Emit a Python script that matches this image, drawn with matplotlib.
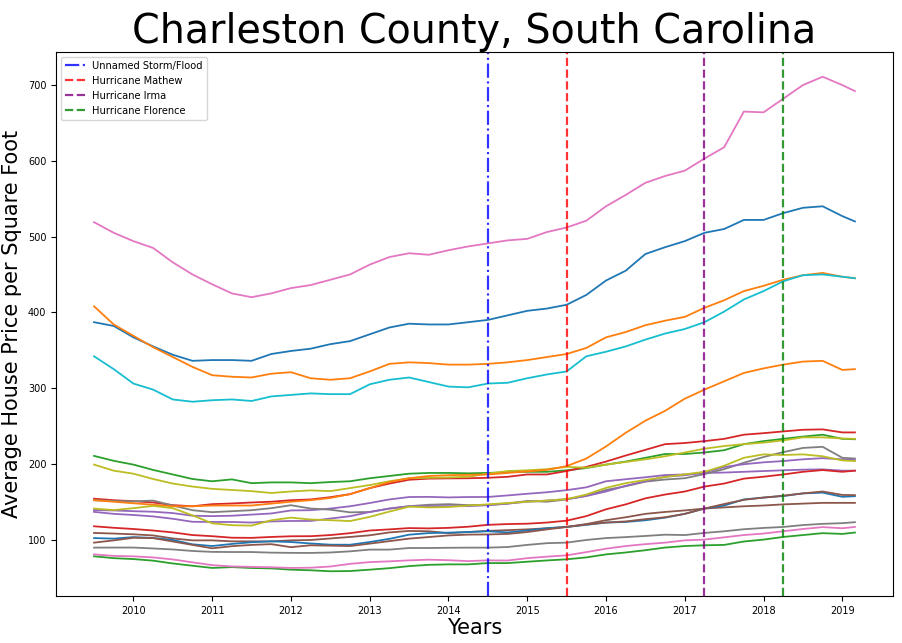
import matplotlib
matplotlib.use("Agg")
import matplotlib.pyplot as plt
import numpy as np

# Quarterly sample dates (decimal years), mid-2009 .. early 2019
years = [2009.5 + 0.25 * k for k in range(39)] + [2019.16]

s01_blue = [387, 382, 367, 355, 344, 336, 337, 337, 336, 345, 349, 352, 358, 362, 371, 380, 385, 384, 384, 387,
            390, 396, 402, 405, 410, 423, 442, 455, 477, 486, 494, 505, 510, 522, 522, 531, 538, 540, 527, 520]
s02_orange = [408, 384, 369, 354, 341, 328, 317, 315, 314, 319, 321, 313, 311, 313, 322, 332, 334, 333, 331, 331,
              332, 334, 337, 341, 345, 353, 367, 374, 383, 389, 394, 406, 416, 428, 435, 443, 449, 452, 447, 445]
s03_green = [210.5, 204, 199, 192, 186, 180, 177, 179.5, 174.5, 175.5, 175.5, 174.5, 176, 177, 181, 184, 187, 188, 188, 187.5,
             188, 189, 189.5, 189.5, 191.5, 194.5, 199, 203, 208, 213, 213, 215, 218, 226, 230, 233, 236, 238.5, 233, 232.5]
s04_red = [154, 152, 150.7, 149, 145.5, 144, 146.8, 147.7, 149, 150, 152, 153, 156, 160, 168, 174, 179, 180.5, 180.8, 181,
           181.6, 182.9, 186, 186, 190.5, 196, 203, 211, 218.5, 226, 227.5, 230, 233, 238.5, 240.5, 242.8, 245, 245.5, 241.5, 241.5]
s05_purple = [139, 138.5, 137.5, 136.8, 135, 131.5, 131, 131.5, 133, 134.5, 138.5, 138.8, 141, 144, 148.3, 153, 156.2, 156.4, 155.7, 156.2,
              156.3, 158.3, 160.5, 162.5, 165.3, 169, 177, 179.7, 182.3, 185.2, 186, 188, 188.5, 189.5, 190.5, 191.5, 192.3, 192.7, 191, 191]
s06_brown = [108.8, 108, 107, 105.5, 101.5, 99, 99, 97.7, 97.7, 97.7, 99, 99.5, 101.5, 103.5, 105.7, 109.5, 111.4, 111, 108.5, 110,
             111.5, 112.5, 113.5, 115, 116.7, 120.5, 125.6, 129.5, 134, 136.5, 138.5, 141, 142.5, 144, 145, 146.5, 147.5, 148.5, 148.5, 148.5]
s07_pink = [519, 505, 494, 485, 466, 450, 437, 425, 420, 425, 432, 436, 443, 450, 463, 473, 478, 476, 482, 487,
            491, 495, 497, 506, 512, 521, 540, 555, 571, 580, 587, 603, 618, 665, 664, 682, 700, 711, 700, 692]
s08_gray = [152, 151, 150.5, 151.5, 145, 138.8, 136.2, 137.5, 138.8, 141.5, 145.4, 141, 139.5, 136, 136.5, 141, 144.1, 146, 146.8, 145.5,
            145.8, 147.5, 151, 150, 153, 158, 165.5, 170.5, 176.5, 179.3, 181, 186.5, 193, 201.5, 209, 215.5, 221, 222.5, 208, 207]
s09_olive = [199, 191, 187, 180, 174, 170, 167, 165.5, 164, 161.5, 163.5, 165, 164, 168, 172, 177, 181, 181.6, 182, 183,
             187, 190.5, 191.5, 193, 196, 195, 199, 202.5, 206, 210, 215, 220, 223.5, 226, 228, 231, 235, 235, 233.5, 233]
s10_cyan = [342, 325, 306, 298, 285, 282, 284, 285, 283, 289, 291, 293, 292, 292, 305, 311, 314, 308, 302, 301,
            306, 307, 313, 318, 322, 342, 348, 355, 364, 372, 378, 387, 401, 417, 428, 441, 449, 450, 447, 445]
s11_blue = [102, 101.3, 103.3, 102.2, 99.5, 93.8, 91.5, 94.3, 96.5, 97.7, 96.8, 94.9, 93.3, 93.2, 96.8, 101, 106.5, 108.6, 109.2, 110,
            111, 109.5, 112, 115, 116.7, 119.5, 122.5, 123.3, 125.5, 129, 134, 141, 145, 153, 155.5, 157.5, 161, 162, 156.5, 157.3]
s12_orange = [152, 150, 148, 146, 144, 144, 145, 145, 145, 147.5, 150, 152, 155, 160, 168, 176, 181, 184, 185, 185.5,
              186, 188, 190, 192, 197, 207, 223, 241, 257, 270, 286, 298, 309, 320, 326, 331, 335, 336, 324, 325]
s13_green = [78, 75.5, 74.3, 72.2, 68.5, 65.5, 62.6, 63.7, 62.5, 62, 60.3, 59.5, 58.2, 58.5, 60.3, 62.3, 65, 66.7, 67.3, 67.3,
             69, 69, 70.8, 72.5, 74, 76.5, 80.5, 83, 86, 89.5, 91.5, 92.5, 93, 97.5, 100, 103.5, 106, 108.5, 107.5, 109.3]
s14_red = [117.6, 115.6, 114, 112, 109.5, 106, 104.5, 102.5, 102.3, 103.5, 104.4, 104.5, 106, 108.5, 112, 113.5, 115.2, 114.8, 115.5, 117,
           119.5, 120.5, 121, 122.5, 125, 131, 140, 146.5, 154.5, 159.5, 163.5, 170, 174, 180.5, 183, 186, 189.5, 191.8, 189.5, 191]
s15_purple = [136.6, 134, 132.5, 130.6, 127.5, 123.5, 123.3, 123.3, 122.5, 124, 124.6, 124.6, 127.8, 130.9, 136.4, 141, 144, 144.2, 144.2, 144.2,
              145.4, 147.5, 150, 151.5, 153.4, 157.5, 163.5, 171, 177, 183, 185, 188.5, 195.8, 199.5, 202, 203.7, 206, 207.5, 206, 205]
s16_brown = [96, 99, 102.4, 102, 97.5, 93, 88.5, 91.3, 93, 94, 90, 92.5, 92, 91.5, 94.7, 98, 101.3, 103.4, 105.5, 106.6,
             106.8, 107.5, 110, 113.5, 116.7, 120, 122.5, 124, 127, 129.5, 134, 141, 147, 152.5, 155.5, 158, 161, 163.5, 159, 158.7]
s17_pink = [80.5, 78.5, 77.9, 76.5, 73.8, 70, 66.3, 64.6, 64, 63.5, 62.6, 62.9, 64.5, 68, 70.3, 71.3, 72.6, 73.5, 72.8, 71.6,
            72.6, 72.4, 75.5, 77.5, 79.2, 83.5, 88, 91.5, 94, 96, 99, 100, 103, 106, 108, 111, 114, 116.5, 115, 116.7]
s18_gray = [89.4, 89.5, 89.5, 88.3, 87, 85, 83.8, 83.6, 83.6, 82.8, 82.5, 82.4, 83, 84.5, 86.8, 86.8, 88.9, 88.9, 89.2, 89.4,
            89.4, 90.2, 93, 95.3, 96, 99.5, 102, 103.3, 104.8, 106.5, 106, 108.8, 111, 113.7, 115.4, 116.7, 119.2, 120.8, 121.7, 123]
s19_olive = [141, 139, 141.5, 144.5, 141.5, 132, 121.5, 119, 118.5, 125.5, 129, 126.5, 125.6, 124.5, 130, 137, 143.5, 142.5, 143, 145,
             146.5, 148.3, 150, 151.5, 153.4, 159.5, 168.3, 174.5, 178.7, 182.6, 186.1, 189.5, 197.5, 208, 212.5, 211.7, 212.5, 210, 204.5, 203.7]

series = [s01_blue, s02_orange, s03_green, s04_red, s05_purple, s06_brown, s07_pink, s08_gray, s09_olive, s10_cyan,
          s11_blue, s12_orange, s13_green, s14_red, s15_purple, s16_brown, s17_pink, s18_gray, s19_olive]

event_names = ["Unnamed Storm/Flood", "Hurricane Mathew", "Hurricane Irma", "Hurricane Florence"]
event_dates = [2014.5, 2015.5, 2017.25, 2018.25]
event_colors = ["blue", "red", "purple", "green"]
event_styles = ["-.", "--", "--", "--"]

tick_years = list(range(2010, 2020))

fig = plt.figure(figsize=(9.03, 6.43), dpi=100)
ax = fig.add_axes([0.062, 0.0731, 0.9269, 0.846])

for s in series:
    ax.plot(years, s, lw=1.3)

for name, d, c, ls in zip(event_names, event_dates, event_colors, event_styles):
    ax.axvline(d, color=c, ls=ls, lw=1.6, alpha=0.8, label=name)

ax.set_xticks(tick_years)
ax.set_xticklabels([str(y) for y in tick_years])
ax.tick_params(labelsize=7)
ax.set_title("Charleston County, South Carolina", fontsize=28.5, pad=6)
ax.set_xlabel("Years", fontsize=15, labelpad=2)
ax.set_ylabel("Average House Price per Square Foot", fontsize=15)
ax.legend(loc="upper left", fontsize=7.1)

fig.savefig("out.png", dpi=100)
